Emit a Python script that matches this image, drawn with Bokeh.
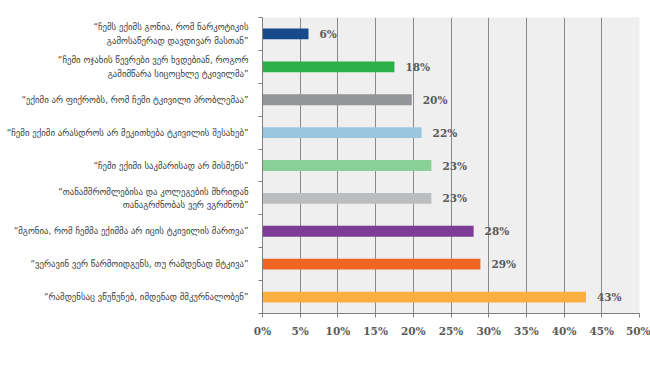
from bokeh.plotting import figure
from bokeh.models import Range1d, FixedTicker, PrintfTickFormatter, ColumnDataSource
from bokeh.embed import file_html
from bokeh.resources import INLINE
from bokeh.core.properties import value

categories = [
    "“ჩემს ექიმს გონია, რომ ნარკოტიკის\nგამოსაწერად დავდივარ მასთან”",
    "“ჩემი ოჯახის წევრები ვერ ხვდებიან, როგორ\nგამიმწარა სიცოცხლე ტკივილმა”",
    "“ექიმი არ ფიქრობს, რომ ჩემი ტკივილი პრობლემაა”",
    "“ჩემი ექიმი არასდროს არ მეკითხება ტკივილის შესახებ”",
    "“ჩემი ექიმი საკმარისად არ მისმენს”",
    "“თანამშრომლებისა და კოლეგების მხრიდან\nთანაგრძნობას ვერ ვგრძნობ”",
    "“მგონია, რომ ჩემმა ექიმმა არ იცის ტკივილის მართვა”",
    "“ვერავინ ვერ წარმოიდგენს, თუ რამდენად მტკივა”",
    "“რამდენსაც ვწუწუნებ, იმდენად მმკურნალობენ”",
]
values = [6.1, 17.5, 19.8, 21.1, 22.4, 22.4, 28.0, 28.9, 42.9]
value_labels = ["6%", "18%", "20%", "22%", "23%", "23%", "28%", "29%", "43%"]
colors = ["#174a8b", "#2bb04a", "#939598", "#9bc6e0", "#89d196",
          "#bcbdbf", "#7e3c96", "#f06522", "#fbaf41"]
x_ticks = [0, 5, 10, 15, 20, 25, 30, 35, 40, 45, 50]

n = len(categories)
ypos = [n - 0.5 - i for i in range(n)]

src = ColumnDataSource(dict(y=ypos, v=values, lab=value_labels, c=colors))

p = figure(width=650, height=377, output_backend="svg", toolbar_location=None,
           x_range=Range1d(0, 50), y_range=Range1d(0, n),
           min_border_left=262, min_border_right=11, min_border_top=17,
           min_border_bottom=64)
p.background_fill_color = "#efefef"
p.border_fill_color = "white"
p.outline_line_color = None

p.hbar(y="y", right="v", left=0, height=0.33, fill_color="c", line_color=None, source=src)
p.text(x="v", y="y", text="lab", source=src, x_offset=11, text_baseline="middle",
       text_font=value("DejaVu Serif"), text_font_style="bold", text_font_size="10.5px",
       text_color="#5a5a5a")

# x axis
p.xaxis.ticker = FixedTicker(ticks=x_ticks)
p.xaxis.formatter = PrintfTickFormatter(format="%d%%")
p.xaxis.major_label_text_font = "DejaVu Serif"
p.xaxis.major_label_text_font_style = "bold"
p.xaxis.major_label_text_font_size = "10.5px"
p.xaxis.major_label_text_color = "#5a5a5a"
p.xaxis.axis_line_color = "#7f7f7f"
p.xaxis.major_tick_line_color = "#7f7f7f"
p.xaxis.major_tick_out = 4
p.xaxis.major_tick_in = 0
p.xaxis.minor_tick_line_color = None
p.xaxis.major_label_standoff = 7

# y axis
p.yaxis.ticker = FixedTicker(ticks=ypos, minor_ticks=list(range(n + 1)))
p.yaxis.major_label_overrides = {yv: c for yv, c in zip(ypos, categories)}
p.yaxis.major_tick_out = 0
p.yaxis.major_tick_in = 0
p.yaxis.minor_tick_out = 4
p.yaxis.minor_tick_in = 0
p.yaxis.minor_tick_line_color = "#7f7f7f"
p.yaxis.axis_line_color = "#7f7f7f"
p.yaxis.major_label_text_font = "DejaVu Sans"
p.yaxis.major_label_text_font_size = "8.8px"
p.yaxis.major_label_text_color = "#404040"
p.yaxis.major_label_text_line_height = 1.35
p.yaxis.major_label_standoff = 10

p.xgrid.ticker = FixedTicker(ticks=x_ticks)
p.xgrid.grid_line_color = "#8a8a8a"
p.xgrid.grid_line_width = 1
p.ygrid.grid_line_color = None

open("out.html", "w").write(file_html(p, INLINE))
